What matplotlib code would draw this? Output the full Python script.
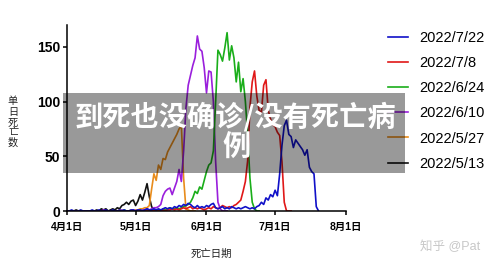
import matplotlib
matplotlib.use("Agg")
import matplotlib.pyplot as plt
from matplotlib.patches import Rectangle
import pandas as pd

plt.rcParams['font.family'] = ['Liberation Sans', 'Noto Sans CJK SC', 'DejaVu Sans']

# daily deaths, each list starts on 2022-04-01
black = [0,0,0,0,1,0,0,0,0,0, 0,0,0,1,0,2,1,2,0,1,
         2,1,3,2,5,6,8,6,9,10, 5,9,15,10,17,25,13,4,1,0,
         1,0,0]
orange = [0,0,0,0,0,0,0,0,0,0, 0,0,0,0,0,0,0,0,0,0,
          0,0,0,1,0,0,0,0,1,0, 1,1,2,2,3,3,5,20,34,28,
          42,38,48,47,54,58,62,66,70,75, 78,30,2,1,0,0,0]
purple = [0,0,0,0,0,0,0,0,0,0, 0,0,0,0,0,0,1,0,0,0,
          0,0,0,0,1,0,0,0,0,1, 0,1,0,1,1,2,1,2,3,3,
          4,6,14,18,20,21,15,21,27,38, 27,55,94,115,124,133,140,160,148,146,
          131,108,128,127,100,45,8,2,0,0, 0]
green = [0,0,0,0,0,0,0,0,0,0, 0,0,0,0,0,0,0,0,0,0,
         0,0,0,0,0,1,0,0,0,0, 0,0,1,0,0,1,0,1,0,1,
         1,0,2,1,2,3,2,2,3,2, 3,4,5,6,8,12,18,16,22,20,
         28,36,42,44,55,100,147,143,137,149, 163,138,151,140,118,136,109,121,100,70,
         30,8,2,0,0]
red = [0,0,0,0,0,0,0,0,0,0, 0,0,0,0,0,0,0,0,0,0,
       0,0,0,0,0,0,0,0,0,0, 0,0,0,0,0,0,0,0,1,0,
       0,0,1,0,1,1,2,1,2,1, 2,3,2,3,4,2,3,2,3,2,
       1,2,3,2,4,3,2,3,5,4, 3,4,3,5,6,8,10,18,27,46,
       95,118,128,105,92,90,115,120,92,84, 79,77,72,69,45,8,0,0,0]
blue = [0,0,1,0,0,0,1,0,0,0, 0,1,0,0,1,0,0,1,0,0,
        1,0,0,1,0,1,0,0,1,1, 0,1,1,0,1,2,1,1,2,1,
        2,1,2,3,2,3,2,4,3,5, 4,6,5,7,6,4,3,5,3,4,
        3,5,4,6,7,3,2,3,4,2, 3,2,4,3,2,3,2,3,4,3,
        2,3,2,4,5,8,6,12,10,15, 13,19,14,34,60,78,83,70,68,58,
        65,62,59,56,51,56,40,36,34,4, 0]

series = [("2022/5/13", black, "#111111"),
          ("2022/5/27", orange, "#e88c1c"),
          ("2022/6/10", purple, "#9a1fdc"),
          ("2022/6/24", green, "#1aae1a"),
          ("2022/7/8", red, "#e01818"),
          ("2022/7/22", blue, "#1010c8")]

tick_dates = pd.to_datetime(["2022-04-01", "2022-05-01", "2022-06-01", "2022-07-01", "2022-08-01"])
tick_labels = ["4月1日", "5月1日", "6月1日", "7月1日", "8月1日"]

fig = plt.figure(figsize=(5, 2.67), dpi=100)
ax = fig.add_axes([0.134, 0.2097, 0.558, 0.6966])

handles = []
for name, vals, col in series:
    x = pd.date_range("2022-04-01", periods=len(vals))
    h, = ax.plot(x, vals, color=col, lw=1.2, label=name)
    handles.append(h)

ax.set_xlim(tick_dates[0], tick_dates[-1])
ax.set_ylim(0, 170)
ax.set_xticks(tick_dates)
ax.set_xticklabels(tick_labels, fontsize=7.5, fontweight="bold")
ax.set_yticks([0, 50, 100, 150])
ax.set_yticklabels(["0", "50", "100", "150"], fontsize=10, fontweight="bold")
ax.tick_params(axis="x", length=3, width=1.1, pad=5)
ax.tick_params(axis="y", length=3, width=1.1, pad=2)
for s in ["top", "right"]:
    ax.spines[s].set_visible(False)
for s in ["left", "bottom"]:
    ax.spines[s].set_linewidth(1.1)

ax.legend(handles[::-1], [h.get_label() for h in handles[::-1]],
          loc="upper left", bbox_to_anchor=(0.765, 0.905), bbox_transform=fig.transFigure,
          frameon=False, fontsize=10.5, handlelength=1.35, handletextpad=0.8,
          labelspacing=0.76, borderaxespad=0)

fig.text(0.026, 0.543, "单\n日\n死\n亡\n数", fontsize=7.3, ha="center", va="center",
         linespacing=1.05, color="#222222")
fig.text(0.422, 0.049, "死亡日期", fontsize=7.5, ha="center", va="center", color="#222222")
fig.text(0.9, 0.075, "知乎 @Pat", fontsize=9, ha="center", va="center", color="#c8c8c8")

# grey banner over the chart
fig.add_artist(Rectangle((63/500, 1-173/267), 342/500, 80/267, transform=fig.transFigure,
                         facecolor="black", alpha=0.4, edgecolor="none", zorder=5))
fig.text(0.47, 1-117/267, "到死也没确诊/没有死亡病", fontsize=20.3, fontweight="bold",
         color="white", ha="center", va="center", family=["Noto Sans CJK SC"], zorder=6)
fig.text(0.473, 1-148/267, "例", fontsize=20.3, fontweight="bold",
         color="white", ha="center", va="center", family=["Noto Sans CJK SC"], zorder=6)

fig.savefig("out.png", dpi=100)
